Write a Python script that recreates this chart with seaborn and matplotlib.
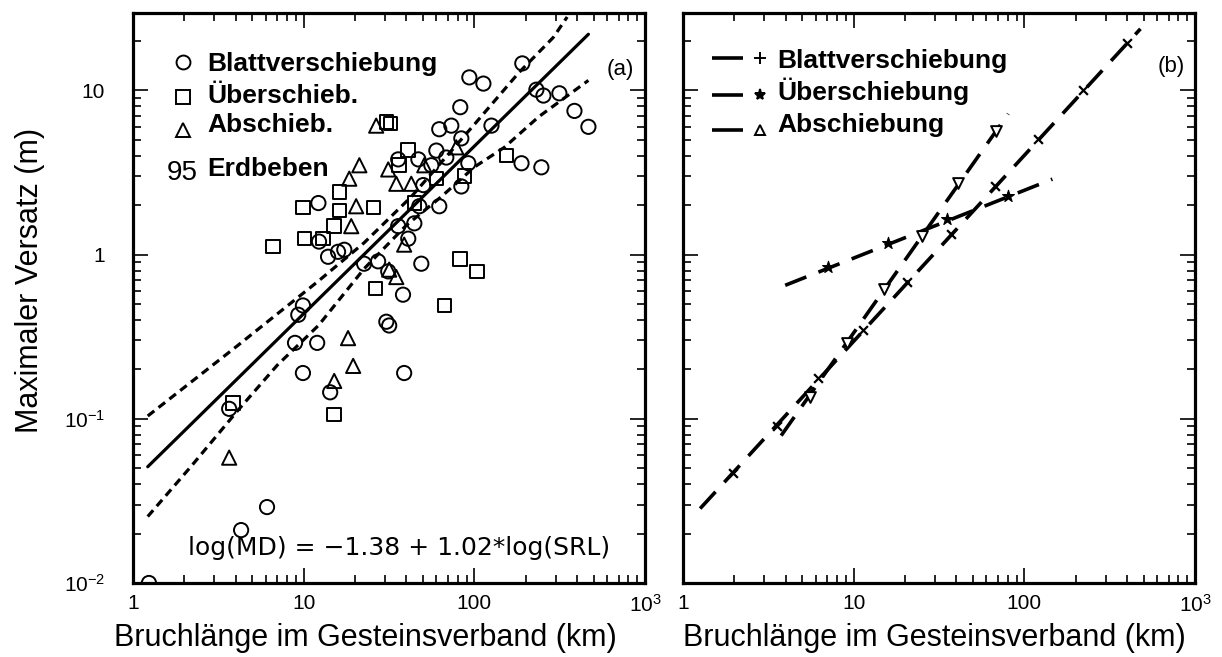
import numpy as np
import pandas as pd
import matplotlib
matplotlib.use("Agg")
import matplotlib.pyplot as plt
import seaborn as sns
from matplotlib.ticker import FixedLocator, FixedFormatter, LogLocator, NullFormatter

# ---------------- data (a) ----------------
blatt_len = [1.24, 4.3, 6.1, 3.66, 9.9, 9.3, 8.9, 12.0, 9.9, 14.3, 38.8, 30.5, 31.7, 38.2,
             27.3, 22.6, 31.3, 48.9, 12.2, 12.3, 13.9, 15.9, 17.3, 35.8, 44.5, 41.0, 47.6,
             62.3, 50.2, 83.9, 56.0, 35.8, 47.0, 68.5, 59.9, 92.2, 189, 247, 83.9, 62.3,
             73.3, 126, 82.7, 93.5, 113, 191, 231, 254, 315, 386, 466]
blatt_md = [0.010, 0.021, 0.029, 0.115, 0.49, 0.43, 0.29, 0.29, 0.19, 0.145, 0.19, 0.39, 0.37,
            0.57, 0.91, 0.88, 0.79, 0.88, 2.06, 1.20, 0.97, 1.04, 1.07, 1.49, 1.55, 1.25, 1.97,
            1.97, 2.65, 2.6, 3.5, 3.8, 3.8, 3.9, 4.3, 3.6, 3.6, 3.4, 5.1, 5.8,
            6.1, 6.1, 7.9, 12.0, 11.0, 14.6, 10.1, 9.3, 9.6, 7.5, 6.0]

ueber_len = [3.86, 15.1, 6.6, 9.9, 10.1, 13.0, 16.2, 16.2, 15.1, 25.6, 26.3, 66.7, 82.7,
             104, 30.5, 32.2, 41.0, 36.3, 59.9, 44.5, 87.4, 154]
ueber_md = [0.125, 0.106, 1.12, 1.94, 1.25, 1.25, 2.4, 1.86, 1.49, 1.94, 0.62, 0.49, 0.94,
            0.79, 6.4, 6.3, 4.35, 3.5, 2.9, 2.06, 3.0, 4.0]

ab_len = [3.66, 15.1, 18.2, 19.5, 26.6, 21.2, 18.5, 20.3, 19.0, 34.9, 42.7, 31.3, 50.9,
          78.4, 38.8, 31.7, 34.9]
ab_md = [0.058, 0.17, 0.31, 0.21, 6.1, 3.5, 2.9, 1.97, 1.49, 2.7, 2.7, 3.3, 3.5,
         4.5, 1.15, 0.81, 0.73]

reg_intercept = -1.38
reg_slope = 1.02
reg_len = [1.22, 466]

upper_len = [1.22, 2.2, 4.1, 7.0, 12.2, 22.6, 42.7, 100, 182, 290, 350]
upper_md = [0.104, 0.168, 0.279, 0.435, 0.69, 1.18, 2.25, 6.2, 12.8, 21.0, 28.0]
lower_len = [1.22, 2.2, 4.1, 7.0, 12.2, 22.6, 40, 64, 100, 150, 238, 466]
lower_md = [0.0254, 0.0516, 0.112, 0.212, 0.37, 0.82, 1.51, 2.25, 3.41, 4.5, 6.9, 11.5]

# ---------------- data (b) ----------------
b_blatt_line_len = [1.26, 479]
b_blatt_line_md = [0.0284, 23.7]
b_blatt_mark_len = [1.96, 3.56, 6.19, 11.4, 20.6, 37.3, 67.6, 121, 222, 402]
b_blatt_mark_md = [0.047, 0.091, 0.176, 0.347, 0.68, 1.33, 2.61, 5.08, 10.0, 19.4]

b_ueber_line_len = [3.97, 146]
b_ueber_line_md = [0.65, 2.88]
b_ueber_mark_len = [7.1, 15.9, 35.3, 80.5]
b_ueber_mark_md = [0.84, 1.17, 1.64, 2.27]

b_ab_line_len = [3.76, 80.5]
b_ab_line_md = [0.079, 7.2]
b_ab_mark_len = [5.56, 9.16, 15.1, 25.2, 41.0, 68.5]
b_ab_mark_md = [0.136, 0.29, 0.62, 1.29, 2.73, 5.69]

x_ticks = [1, 10, 100, 1000]
x_tick_labels = ["1", "10", "100", "$10^3$"]
y_ticks = [0.01, 0.1, 1, 10]
y_tick_labels = ["$10^{-2}$", "$10^{-1}$", "1", "10"]

legend_a = ["Blattverschiebung", "Überschieb.", "Abschieb."]
legend_b = ["Blattverschiebung", "Überschiebung", "Abschiebung"]
xlabel = "Bruchlänge im Gesteinsverband (km)"
ylabel = "Maximaler Versatz (m)"

# ---------------- style ----------------
sns.set_theme(style="white")
plt.rcParams["font.family"] = ["Liberation Sans", "DejaVu Sans"]
plt.rcParams["mathtext.fontset"] = "custom"
plt.rcParams["mathtext.rm"] = "Liberation Sans"
plt.rcParams["mathtext.it"] = "Liberation Sans:italic"
plt.rcParams["mathtext.bf"] = "Liberation Sans:bold"

W, H = 1222, 657
fig = plt.figure(figsize=(W / 100, H / 100), dpi=100)
ax1 = fig.add_axes([133 / W, 1 - 583 / H, 512 / W, 570 / H])
ax2 = fig.add_axes([683 / W, 1 - 583 / H, 512 / W, 570 / H])


def style_ax(ax, ylab=True):
    ax.set_xscale("log")
    ax.set_yscale("log")
    ax.set_xlim(1, 1000)
    ax.set_ylim(0.01, 29.6)
    ax.xaxis.set_major_locator(FixedLocator(x_ticks))
    ax.xaxis.set_major_formatter(FixedFormatter(x_tick_labels))
    ax.xaxis.set_minor_locator(LogLocator(base=10, subs=np.arange(2, 10), numticks=30))
    ax.xaxis.set_minor_formatter(NullFormatter())
    ax.yaxis.set_major_locator(FixedLocator(y_ticks))
    ax.yaxis.set_major_formatter(FixedFormatter(y_tick_labels))
    ax.yaxis.set_minor_locator(LogLocator(base=10, subs=np.arange(2, 10), numticks=30))
    ax.yaxis.set_minor_formatter(NullFormatter())
    ax.tick_params(which="both", direction="in", top=True, right=True,
                   bottom=True, left=True, width=1.2, color="black")
    ax.tick_params(which="major", length=11)
    ax.tick_params(which="minor", length=6)
    ax.tick_params(axis="x", which="major", pad=8, labelsize=15, labelcolor="black")
    ax.tick_params(axis="y", which="major", pad=20, labelsize=15, labelcolor="black",
                   labelleft=ylab)
    for sp in ax.spines.values():
        sp.set_linewidth(2.3)
        sp.set_color("black")
        sp.set_visible(True)


style_ax(ax1, True)
style_ax(ax2, False)

# ---------------- panel (a) ----------------
sns.scatterplot(x=blatt_len, y=blatt_md, marker="o", s=105, facecolor="none",
                edgecolor="black", linewidth=1.4, ax=ax1, legend=False, zorder=3)
sns.scatterplot(x=ueber_len, y=ueber_md, marker="s", s=95, facecolor="none",
                edgecolor="black", linewidth=1.4, ax=ax1, legend=False, zorder=3)
sns.scatterplot(x=ab_len, y=ab_md, marker="^", s=105, facecolor="none",
                edgecolor="black", linewidth=1.4, ax=ax1, legend=False, zorder=3)

reg_md = [10 ** (reg_intercept + reg_slope * np.log10(v)) for v in reg_len]
sns.lineplot(x=reg_len, y=reg_md, color="black", lw=2.3, ax=ax1, zorder=4)
sns.lineplot(x=upper_len, y=upper_md, color="black", lw=2.3,
             linestyle=(0, (2.6, 1.7)), ax=ax1, zorder=4)
sns.lineplot(x=lower_len, y=lower_md, color="black", lw=2.3,
             linestyle=(0, (2.6, 1.7)), ax=ax1, zorder=4)

# legend (a)
leg_marks = ["o", "s", "^"]
leg_mark_y = [0.914, 0.853, 0.795]
leg_text_y = [0.898, 0.842, 0.791]
for m, my, ty, lab in zip(leg_marks, leg_mark_y, leg_text_y, legend_a):
    ax1.plot([0.0977], [my], marker=m, ms=10, mfc="none", mec="black", mew=1.4,
             transform=ax1.transAxes, clip_on=False, ls="none")
    ax1.text(0.1445, ty, lab, transform=ax1.transAxes, fontsize=19,
             fontweight="bold", va="baseline", ha="left", color="black")
ax1.text(0.127, 0.707, "95", transform=ax1.transAxes, fontsize=20,
         va="baseline", ha="right", color="black")
ax1.text(0.1445, 0.714, "Erdbeben", transform=ax1.transAxes, fontsize=19,
         fontweight="bold", va="baseline", ha="left", color="black")
ax1.text(0.951, 0.90, "(a)", transform=ax1.transAxes, fontsize=16,
         va="center", ha="center", color="black")
ax1.text(0.52, 0.049, "log(MD) = \u22121.38 + 1.02*log(SRL)", transform=ax1.transAxes,
         fontsize=18, family=["DejaVu Sans"], va="baseline", ha="center", color="black")

ax1.set_xlabel(xlabel, fontsize=22, va="center", color="black")
ax1.xaxis.set_label_coords(0.453, -0.0965)
ax1.set_ylabel(ylabel, fontsize=22, va="center", color="black")
ax1.yaxis.set_label_coords(-0.201, 0.53)

# ---------------- panel (b) ----------------
dash_b = (0, (6.3, 3.6))
sns.lineplot(x=b_blatt_line_len, y=b_blatt_line_md, color="black", lw=2.6,
             linestyle=dash_b, ax=ax2)
sns.lineplot(x=b_ueber_line_len, y=b_ueber_line_md, color="black", lw=2.6,
             linestyle=dash_b, ax=ax2)
sns.lineplot(x=b_ab_line_len, y=b_ab_line_md, color="black", lw=2.6,
             linestyle=dash_b, ax=ax2)
sns.scatterplot(x=b_blatt_mark_len, y=b_blatt_mark_md, marker="x", s=40,
                color="black", linewidth=1.6, ax=ax2, legend=False, zorder=4)
sns.scatterplot(x=b_ueber_mark_len, y=b_ueber_mark_md, marker="*", s=80,
                color="black", edgecolor="black", linewidth=0.8, ax=ax2,
                legend=False, zorder=4)
sns.scatterplot(x=b_ab_mark_len, y=b_ab_mark_md, marker="v", s=60, facecolor="white",
                edgecolor="black", linewidth=1.4, ax=ax2, legend=False, zorder=4)

# legend (b)
leg_b_marks = ["+", "*", "^"]
leg_b_line_y = [0.921, 0.856, 0.795]
leg_b_text_y = [0.9035, 0.847, 0.791]
for m, ly, ty, lab in zip(leg_b_marks, leg_b_line_y, leg_b_text_y, legend_b):
    ax2.plot([0.0566, 0.117], [ly, ly], color="black", lw=2.6, solid_capstyle="butt",
             transform=ax2.transAxes)
    ax2.plot([0.150], [ly], marker=m, ms=8 if m != "^" else 7,
             mfc="black" if m == "*" else "none", mec="black", mew=1.4,
             transform=ax2.transAxes, ls="none")
    ax2.text(0.1836, ty, lab, transform=ax2.transAxes, fontsize=19,
             fontweight="bold", va="baseline", ha="left", color="black")
ax2.text(0.953, 0.907, "(b)", transform=ax2.transAxes, fontsize=16,
         va="center", ha="center", color="black")

ax2.set_xlabel(xlabel, fontsize=22, va="center", color="black")
ax2.xaxis.set_label_coords(0.49, -0.0965)
ax2.set_ylabel("")

fig.savefig("out.png", dpi=100, facecolor="white")
